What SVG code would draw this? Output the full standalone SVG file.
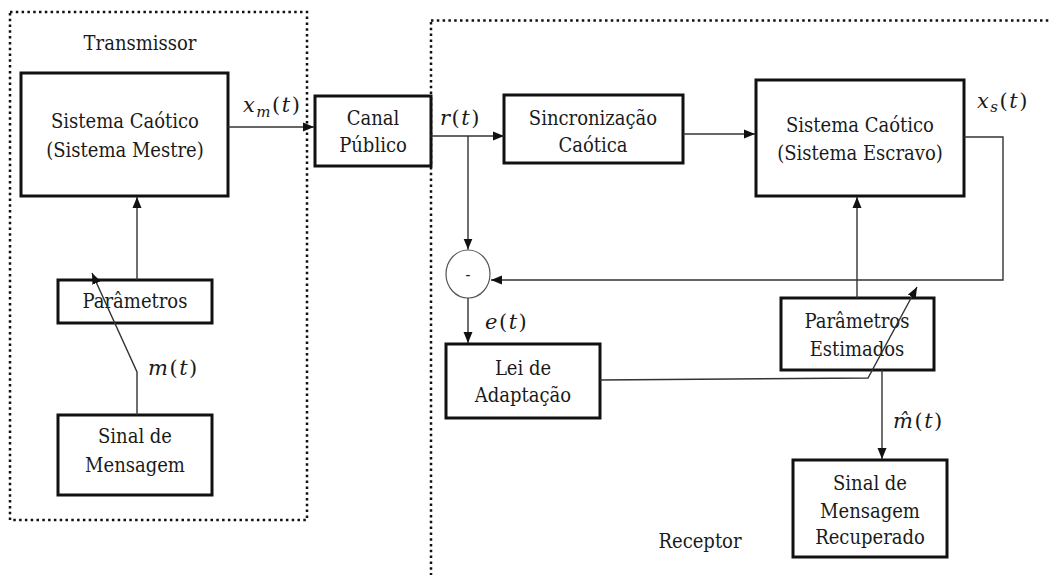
<svg xmlns="http://www.w3.org/2000/svg" width="1051" height="575" viewBox="0 0 1051 575" font-family="DejaVu Serif Condensed, DejaVu Serif, serif">
  <style>
    .frame { fill: none; stroke: #111; stroke-width: 2.5; stroke-dasharray: 2.5 3.3; }
    .box { fill: #fff; stroke: #111; stroke-width: 3; }
    .wire { fill: none; stroke: #333; stroke-width: 1.4; }
    .sum { fill: #fff; stroke: #555; stroke-width: 1.2; }
    .lbl { text-anchor: middle; }
    .it { font-style: italic; }
    .math { font-family: "DejaVu Serif", serif; font-stretch: normal; font-size: 21px; letter-spacing: 1.5px; }
  </style>
  <defs>
    <marker id="arrow" markerUnits="userSpaceOnUse" markerWidth="12" markerHeight="10" refX="11" refY="5" orient="auto">
      <path d="M0,0.5 L11,5 L0,9.5 z" fill="#111"/>
    </marker>
  </defs>

  <rect width="1051" height="575" fill="#fff"/>

  <g font-size="20" fill="#1a1a1a" font-stretch="condensed">
  <!-- transmitter and receiver frames -->
  <rect class="frame" x="10" y="12" width="297" height="508"/>
  <rect class="frame" x="431" y="20.5" width="640" height="580"/>
  <text class="lbl" x="140" y="50">Transmissor</text>
  <text class="lbl" x="700" y="548">Receptor</text>

  <!-- transmitter blocks -->
  <g id="mestre">
    <rect class="box" x="21" y="73" width="207" height="123"/>
    <text class="lbl" x="125" y="128">Sistema Caótico</text>
    <text class="lbl" x="125" y="157">(Sistema Mestre)</text>
  </g>
  <g id="parametros">
    <rect class="box" x="58" y="280" width="154" height="43"/>
    <text class="lbl" x="135" y="308">Parâmetros</text>
  </g>
  <g id="mensagem">
    <rect class="box" x="58" y="415" width="154" height="80"/>
    <text class="lbl" x="135" y="443">Sinal de</text>
    <text class="lbl" x="135" y="472">Mensagem</text>
  </g>

  <!-- channel -->
  <g id="canal">
    <rect class="box" x="315" y="96" width="116" height="70"/>
    <text class="lbl" x="373" y="125">Canal</text>
    <text class="lbl" x="373" y="152">Público</text>
  </g>

  <!-- receiver blocks -->
  <g id="sincronizacao">
    <rect class="box" x="504" y="95" width="179" height="68"/>
    <text class="lbl" x="593" y="125">Sincronização</text>
    <text class="lbl" x="593" y="152">Caótica</text>
  </g>
  <g id="escravo">
    <rect class="box" x="756" y="80" width="208" height="116"/>
    <text class="lbl" x="860" y="132">Sistema Caótico</text>
    <text class="lbl" x="860" y="160">(Sistema Escravo)</text>
  </g>
  <g id="subtrator">
    <ellipse class="sum" cx="468" cy="274" rx="22" ry="24"/>
    <text class="lbl" x="468" y="280" font-size="16">-</text>
  </g>
  <g id="adaptacao">
    <rect class="box" x="446" y="344" width="154" height="74"/>
    <text class="lbl" x="523" y="375">Lei de</text>
    <text class="lbl" x="523" y="402">Adaptação</text>
  </g>
  <g id="estimados">
    <rect class="box" x="781" y="298" width="153" height="72"/>
    <text class="lbl" x="857" y="328">Parâmetros</text>
    <text class="lbl" x="857" y="356">Estimados</text>
  </g>
  <g id="recuperado">
    <rect class="box" x="793" y="460" width="154" height="97"/>
    <text class="lbl" x="870" y="490">Sinal de</text>
    <text class="lbl" x="870" y="518">Mensagem</text>
    <text class="lbl" x="870" y="544">Recuperado</text>
  </g>

  <!-- connectors, drawn last so the slanted parameter lines pass over the boxes -->
  <g id="connectors">
    <path class="wire" d="M228,127 H314" marker-end="url(#arrow)"/>
    <path class="wire" d="M137,280 V197" marker-end="url(#arrow)"/>
    <path class="wire" d="M137,415 V372 L92,273" marker-end="url(#arrow)"/>
    <path class="wire" d="M431,136 H504" marker-end="url(#arrow)"/>
    <path class="wire" d="M468,136 V249.5" marker-end="url(#arrow)"/>
    <path class="wire" d="M683,134 H755" marker-end="url(#arrow)"/>
    <path class="wire" d="M964,137 H1003 V280 H491" marker-end="url(#arrow)"/>
    <path class="wire" d="M468,298 V343" marker-end="url(#arrow)"/>
    <path class="wire" d="M600,380 L868,378 L917,287" marker-end="url(#arrow)"/>
    <path class="wire" d="M857,298 V197" marker-end="url(#arrow)"/>
    <path class="wire" d="M882,370 V459" marker-end="url(#arrow)"/>
  </g>

  <!-- signal labels -->
  <text class="math" x="243" y="112"><tspan class="it">x</tspan><tspan class="it" font-size="15" dy="5">m</tspan><tspan dy="-5">(</tspan><tspan class="it">t</tspan>)</text>
  <text class="math" x="440" y="125"><tspan class="it">r</tspan>(<tspan class="it">t</tspan>)</text>
  <text class="math" x="485" y="329"><tspan class="it">e</tspan>(<tspan class="it">t</tspan>)</text>
  <text class="math" x="148" y="375"><tspan class="it">m</tspan>(<tspan class="it">t</tspan>)</text>
  <text class="math" x="977" y="108"><tspan class="it">x</tspan><tspan class="it" font-size="15" dy="4">s</tspan><tspan dy="-4">(</tspan><tspan class="it">t</tspan>)</text>
  <text class="math" x="893" y="428"><tspan class="it">m̂</tspan>(<tspan class="it">t</tspan>)</text>
  </g>
</svg>
